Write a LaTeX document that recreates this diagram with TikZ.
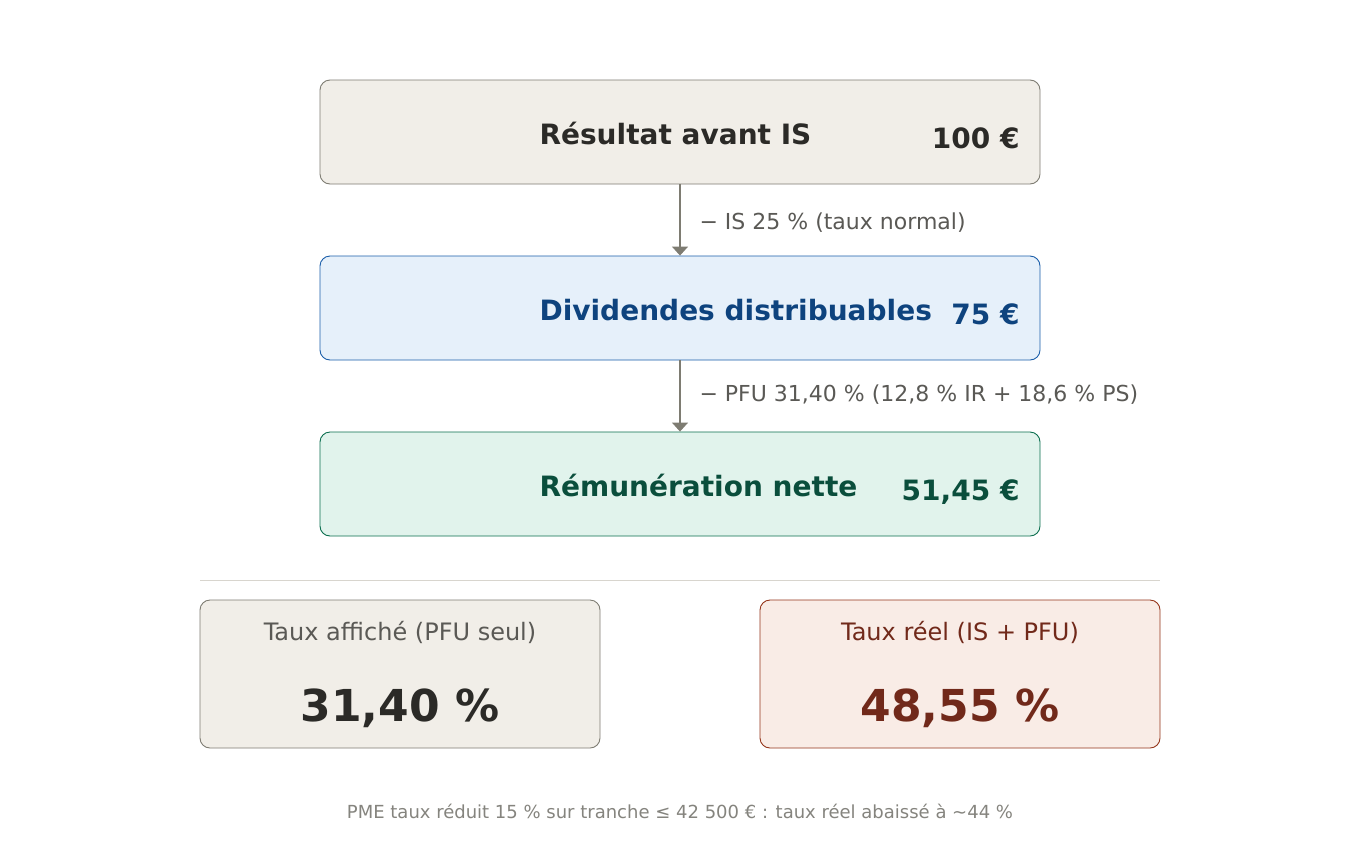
\documentclass[tikz,border=0pt]{standalone}
\usepackage{fontspec}
\setmainfont{DejaVu Sans}
\usepackage{xcolor}
\usepackage{tikz}
\usetikzlibrary{positioning, arrows.meta}
\definecolor{sandfill}{HTML}{F1EEE8}
\definecolor{sanddraw}{HTML}{7E7C72}
\definecolor{inkdark}{HTML}{2B2A27}
\definecolor{bluefill}{HTML}{E6F0FA}
\definecolor{bluedraw}{HTML}{1A5EAA}
\definecolor{blueink}{HTML}{0E437E}
\definecolor{greenfill}{HTML}{E1F3EC}
\definecolor{greendraw}{HTML}{0A6E4E}
\definecolor{greenink}{HTML}{0A4E3C}
\definecolor{rustfill}{HTML}{F9ECE6}
\definecolor{rustdraw}{HTML}{94351A}
\definecolor{rustink}{HTML}{71291A}
\definecolor{labelgray}{HTML}{5A5955}
\definecolor{notegray}{HTML}{85847E}
\definecolor{rulegray}{HTML}{D8D5CE}
\tikzset{flow/.style={-{Triangle[length=9pt,width=16pt]}, draw=sanddraw, line width=1.3pt},
         stage/.style={rounded corners=10pt, minimum width=720pt, minimum height=104pt, line width=0.9pt},
         rate/.style={rounded corners=10pt, minimum width=400pt, minimum height=148pt, line width=0.9pt},
         title/.style={anchor=base west, font=\fontsize{28}{32}\selectfont\bfseries},
         amount/.style={anchor=base east, font=\fontsize{28}{32}\selectfont\bfseries},
         cut/.style={anchor=west, text=labelgray, font=\fontsize{22}{26}\selectfont},
         }

\begin{document}
\begin{tikzpicture}[x=1pt, y=-1pt]
    \useasboundingbox[fill=white] (0,0) rectangle (1360,860);
    % stages
    \node[stage, fill=sandfill, draw=sanddraw] (res) at (680,132) {};
    \node[stage, fill=bluefill, draw=bluedraw] (div) at (680,308) {};
    \node[stage, fill=greenfill, draw=greendraw] (net) at (680,484) {};

    \node[title, text=inkdark] (resT) at (536,144) {Résultat avant IS};
    \node[amount, text=inkdark] (resV) at (1023,148) {100 €};
    \node[title, text=blueink] (divT) at (536,320) {Dividendes distribuables};
    \node[amount, text=blueink] (divV) at (1023,324) {75 €};
    \node[title, text=greenink] (netT) at (536,496) {Rémunération nette};
    \node[amount, text=greenink] (netV) at (1023,500) {51,45 €};

    \draw[flow] (res) -- (div);
    \draw[flow] (div) -- (net);
    \node[cut] (cutIS) at (696,223) {− IS 25 \% (taux normal)};
    \node[cut] (cutPFU) at (696,395) {− PFU 31,40 \% (12,8 \% IR + 18,6 \% PS)};

    % rates
    \coordinate (ruleL) at (200,580);
    \coordinate (ruleR) at (1160,580);
    \draw[rulegray, line width=1pt] (ruleL) -- (ruleR);

    \node[rate, fill=sandfill, draw=sanddraw] (shown) at (400,674) {};
    \node[rate, fill=rustfill, draw=rustdraw] (real) at (960,674) {};
    \node[text=labelgray, font=\fontsize{24}{28}\selectfont] (shownT) at (400,632) {Taux affiché (PFU seul)};
    \node[text=inkdark, font=\fontsize{44}{50}\selectfont\bfseries] (shownV) at (400,708) {31,40 \%};
    \node[text=rustink, font=\fontsize{24}{28}\selectfont] (realT) at (960,632) {Taux réel (IS + PFU)};
    \node[text=rustink, font=\fontsize{44}{50}\selectfont\bfseries] (realV) at (960,708) {48,55 \%};

    \node[text=notegray, font=\fontsize{18}{21}\selectfont] (note) at (680,811) {PME taux réduit 15 \% sur tranche ≤ 42 500 € : taux réel abaissé à \textasciitilde44 \%};
\end{tikzpicture}
\end{document}
